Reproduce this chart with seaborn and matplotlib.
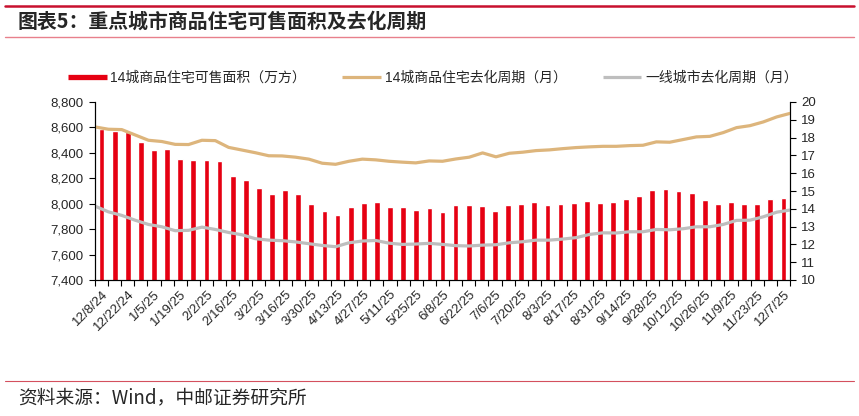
import numpy as np
import matplotlib.pyplot as plt
import seaborn as sns
from matplotlib.lines import Line2D
from matplotlib.ticker import FuncFormatter

# weekly data, 12/8/24 .. 12/7/25
stock = [8585, 8570, 8565, 8488, 8426, 8431, 8348, 8340, 8340, 8335,
         8221, 8184, 8125, 8075, 8107, 8078, 7995, 7943, 7909, 7974,
         8003, 8013, 7977, 7971, 7953, 7966, 7938, 7987, 7987, 7982,
         7940, 7992, 7995, 8013, 7987, 7997, 8005, 8021, 8008, 8010,
         8034, 8060, 8107, 8117, 8099, 8086, 8031, 7997, 8010, 7995,
         7997, 8036, 8047]
cycle_14 = [18.60, 18.47, 18.45, 18.15, 17.85, 17.78, 17.62, 17.61, 17.85, 17.83,
            17.45, 17.30, 17.15, 16.98, 16.97, 16.90, 16.79, 16.56, 16.50, 16.67,
            16.79, 16.75, 16.67, 16.62, 16.58, 16.69, 16.67, 16.80, 16.90, 17.14,
            16.92, 17.12, 17.18, 17.27, 17.31, 17.38, 17.44, 17.48, 17.51, 17.51,
            17.55, 17.57, 17.76, 17.74, 17.89, 18.04, 18.07, 18.28, 18.56, 18.67,
            18.88, 19.16, 19.36]
cycle_t1 = [14.15, 13.83, 13.63, 13.36, 13.12, 12.99, 12.77, 12.79, 12.97, 12.84,
            12.67, 12.54, 12.32, 12.24, 12.21, 12.14, 12.04, 11.94, 11.87, 12.09,
            12.19, 12.22, 12.07, 12.00, 12.02, 12.06, 12.00, 11.93, 11.91, 11.96,
            11.98, 12.09, 12.15, 12.24, 12.24, 12.30, 12.38, 12.56, 12.65, 12.64,
            12.71, 12.71, 12.84, 12.82, 12.88, 12.99, 12.99, 13.12, 13.35, 13.36,
            13.55, 13.81, 13.93]
tick_labels = ['12/8/24', '12/22/24', '1/5/25', '1/19/25', '2/2/25', '2/16/25',
               '3/2/25', '3/16/25', '3/30/25', '4/13/25', '4/27/25', '5/11/25',
               '5/25/25', '6/8/25', '6/22/25', '7/6/25', '7/20/25', '8/3/25',
               '8/17/25', '8/31/25', '9/14/25', '9/28/25', '10/12/25', '10/26/25',
               '11/9/25', '11/23/25', '12/7/25']

label_stock = '14城商品住宅可售面积（万方）'
label_14 = '14城商品住宅去化周期（月）'
label_t1 = '一线城市去化周期（月）'

red = '#E60012'
gold = '#DDB57C'
grey = '#BEBEBE'

sns.set_style('white')
plt.rcParams['font.family'] = ['Liberation Sans', 'Noto Sans CJK SC', 'DejaVu Sans']

fig = plt.figure(figsize=(8.59, 4.16), dpi=100)
ax = fig.add_axes([95 / 859, 1 - 280 / 416, 695 / 859, 178 / 416])

n = len(stock)
x = np.arange(n)
sns.barplot(x=x, y=stock, color=red, saturation=1, width=0.44, ax=ax)
ax.set_xlim(-0.5, n - 0.5)
ax.set_ylim(7400, 8800)
ax.set_yticks(np.arange(7400, 8801, 200))
ax.yaxis.set_major_formatter(FuncFormatter(lambda v, p: '{:,.0f}'.format(v)))

# lines run edge to edge of the category axis
ax2 = ax.twinx()
xl = np.linspace(-0.5, n - 0.5, n)
sns.lineplot(x=xl, y=cycle_14, color=gold, lw=2.3, ax=ax2, legend=False)
sns.lineplot(x=xl, y=cycle_t1, color=grey, lw=2.3, ax=ax2, legend=False)
ax2.set_ylim(10, 20)
ax2.set_yticks(range(10, 21))
ax2.set_xlim(-0.5, n - 0.5)

ax.set_xticks(x[::2])
ax.set_xticklabels(tick_labels, rotation=45, ha='right', rotation_mode='anchor', fontsize=9.5)
ax.set_xticks(np.arange(-0.5, n, 1), minor=True)
ax.tick_params(axis='x', which='major', length=0, pad=6)
ax.tick_params(axis='x', which='minor', bottom=True, length=4, width=0.8, color='black', direction='out')
ax.tick_params(axis='y', left=True, length=4, width=0.8, color='black', labelsize=9.5, pad=4)
ax2.tick_params(axis='y', right=True, length=4, width=0.8, color='black', labelsize=9.5, pad=4)
ax.set_xlabel('')
ax.set_ylabel('')
ax2.set_ylabel('')

for a in (ax, ax2):
    a.spines['top'].set_visible(False)
    for s in ('left', 'right', 'bottom'):
        a.spines[s].set_color('black')
        a.spines[s].set_linewidth(0.8)

handles = [Line2D([], [], color=red, lw=3.8, solid_capstyle='butt'),
           Line2D([], [], color=gold, lw=2.3, solid_capstyle='butt'),
           Line2D([], [], color=grey, lw=2.3, solid_capstyle='butt')]
fig.legend(handles, [label_stock, label_14, label_t1], loc='center left',
           bbox_to_anchor=(68 / 859, 1 - 78 / 416), ncol=3, frameon=False,
           fontsize=10, handlelength=2.8, handletextpad=0.25, columnspacing=2.6,
           borderaxespad=0, borderpad=0)

# header / footer decorations
fig.add_artist(Line2D([5 / 859, 854 / 859], [1 - 6 / 416] * 2, color='#C8102E', lw=1.8))
fig.add_artist(Line2D([5 / 859, 854 / 859], [1 - 36.5 / 416] * 2, color='#E8808C', lw=1.0))
fig.add_artist(Line2D([5 / 859, 854 / 859], [1 - 381 / 416] * 2, color='#D4505E', lw=0.8))
fig.text(18 / 859, 1 - 21 / 416, '图表5：重点城市商品住宅可售面积及去化周期',
         fontsize=14.3, fontweight='bold', va='center', family=['Noto Sans CJK SC'])
fig.text(18 / 859, 1 - 398 / 416, '资料来源：Wind，中邮证券研究所',
         fontsize=13.5, va='center', family=['Noto Sans CJK SC', 'DejaVu Sans'])

fig.savefig('out.png', dpi=100)
